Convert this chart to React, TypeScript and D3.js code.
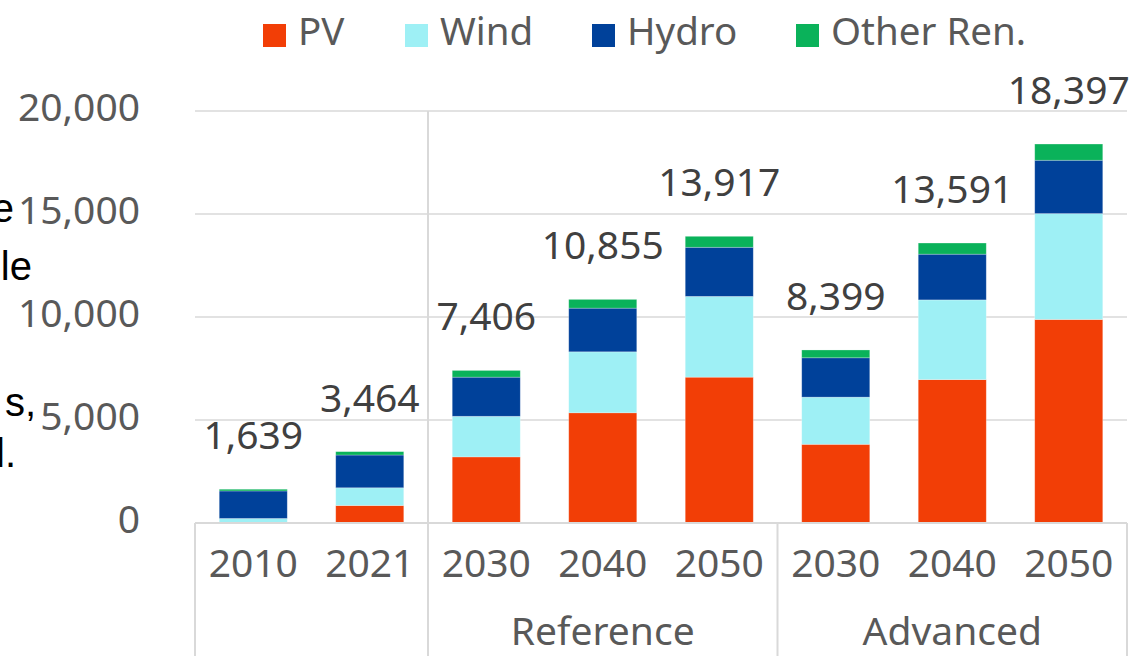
import React, { useRef, useEffect } from "react";
import * as d3 from "d3";

// categories on the x axis (years) and the scenario each belongs to
const categories = ["2010", "2021", "2030", "2040", "2050", "2030", "2040", "2050"];
const scenario = ["", "", "Reference", "Reference", "Reference", "Advanced", "Advanced", "Advanced"];

// stacked series
const pv = [0, 850, 3210, 5350, 7080, 3820, 6960, 9880];
const wind = [220, 860, 1970, 2960, 3920, 2290, 3870, 5140];
const hydro = [1335, 1590, 1900, 2120, 2385, 1910, 2220, 2590];
const other = [84, 164, 326, 425, 532, 379, 541, 787];
const totals = [1639, 3464, 7406, 10855, 13917, 8399, 13591, 18397];

const seriesNames = ["PV", "Wind", "Hydro", "Other Ren."];
const seriesColors = ["#F23E06", "#9EF0F5", "#00419A", "#0AB25A"];
const yTicks = [0, 5000, 10000, 15000, 20000];

// clipped paragraph text on the left edge of the slide
const sideText = ["e", "le", "s,", "l."];

export default function App() {
   const svgRef = useRef<SVGSVGElement>(null);

   useEffect(() => {
      const W = 1135;
      const H = 656;
      const svg = d3.select(svgRef.current).attr("width", W).attr("height", H);
      svg.selectAll("*").remove();

      const font = "'Noto Sans', sans-serif";
      const left = 195;
      const right = 1127;

      const keys = categories.map((c, i) => `${i}`);
      const x = d3.scaleBand().domain(keys).range([left, right]).paddingInner(0.416).paddingOuter(0.208);
      const y = d3.scaleLinear().domain([0, 20000]).range([523, 111]);
      const step = x.step();

      // gridlines
      svg.append("g")
         .selectAll("line")
         .data(yTicks.filter((t) => t > 0))
         .join("line")
         .attr("x1", left)
         .attr("x2", right)
         .attr("y1", (d) => y(d))
         .attr("y2", (d) => y(d))
         .attr("stroke", "#d9d9d9")
         .attr("stroke-width", 1.5);

      // y tick labels
      svg.append("g")
         .selectAll("text")
         .data(yTicks)
         .join("text")
         .attr("x", 140)
         .attr("y", (d) => y(d) + 10)
         .attr("text-anchor", "end")
         .attr("font-family", font)
         .attr("font-size", 39)
         .attr("fill", "#595959")
         .text((d) => d3.format(",")(d));

      // stacked bars
      const rows = categories.map((c, i) => ({
         key: `${i}`,
         PV: pv[i],
         Wind: wind[i],
         Hydro: hydro[i],
         "Other Ren.": other[i],
      }));
      const stacked = d3.stack<any>().keys(seriesNames)(rows);

      svg.append("g")
         .selectAll("g")
         .data(stacked)
         .join("g")
         .attr("fill", (d, i) => seriesColors[i])
         .selectAll("rect")
         .data((d) => d)
         .join("rect")
         .attr("x", (d) => x(d.data.key)!)
         .attr("width", x.bandwidth())
         .attr("y", (d) => y(d[1]))
         .attr("height", (d) => y(d[0]) - y(d[1]))
         .attr("stroke", "#ffffff")
         .attr("stroke-opacity", 0.35)
         .attr("stroke-width", 0.75);

      // axis line and category separators
      svg.append("line")
         .attr("x1", left)
         .attr("x2", right)
         .attr("y1", y(0))
         .attr("y2", y(0))
         .attr("stroke", "#d9d9d9")
         .attr("stroke-width", 2);

      const boundaries = [0, 2, 5, 8];
      svg.append("g")
         .selectAll("line")
         .data(boundaries)
         .join("line")
         .attr("x1", (d) => left + d * step)
         .attr("x2", (d) => left + d * step)
         .attr("y1", (d) => (d === 2 ? y(20000) : y(0)))
         .attr("y2", H)
         .attr("stroke", "#d9d9d9")
         .attr("stroke-width", 2);

      // total labels
      svg.append("g")
         .selectAll("text")
         .data(totals)
         .join("text")
         .attr("x", (d, i) => x(`${i}`)! + x.bandwidth() / 2)
         .attr("y", (d) => y(d) - 40)
         .attr("text-anchor", "middle")
         .attr("font-family", font)
         .attr("font-size", 39)
         .attr("fill", "#404040")
         .text((d) => d3.format(",")(d));

      // x labels
      svg.append("g")
         .selectAll("text")
         .data(categories)
         .join("text")
         .attr("x", (d, i) => x(`${i}`)! + x.bandwidth() / 2)
         .attr("y", 577)
         .attr("text-anchor", "middle")
         .attr("font-family", font)
         .attr("font-size", 39)
         .attr("fill", "#595959")
         .text((d) => d);

      // scenario labels
      const groupNames = Array.from(new Set(scenario.filter((s) => s)));
      svg.append("g")
         .selectAll("text")
         .data(groupNames)
         .join("text")
         .attr("x", (g) => {
            const idx = scenario.map((s, i) => (s === g ? i : -1)).filter((i) => i >= 0);
            return left + ((idx[0] + idx[idx.length - 1] + 1) / 2) * step;
         })
         .attr("y", 645)
         .attr("text-anchor", "middle")
         .attr("font-family", font)
         .attr("font-size", 39)
         .attr("fill", "#595959")
         .text((g) => g);

      // legend
      const legendX = [263, 405, 592, 796];
      const legend = svg.append("g")
         .selectAll("g")
         .data(seriesNames)
         .join("g")
         .attr("transform", (d, i) => `translate(${legendX[i]}, 0)`);
      legend.append("rect")
         .attr("x", 0)
         .attr("y", 24)
         .attr("width", 23)
         .attr("height", 23)
         .attr("fill", (d, i) => seriesColors[i]);
      legend.append("text")
         .attr("x", 35)
         .attr("y", 45)
         .attr("font-family", font)
         .attr("font-size", 38.5)
         .attr("fill", "#595959")
         .text((d) => d);

      // clipped side text
      const sideY = [222, 280, 416, 467];
      const sideX = [14, 32, 36, 16];
      svg.append("g")
         .selectAll("text")
         .data(sideText)
         .join("text")
         .attr("x", (d, i) => sideX[i])
         .attr("y", (d, i) => sideY[i])
         .attr("text-anchor", "end")
         .attr("font-family", "'Liberation Sans', Arial, sans-serif")
         .attr("font-size", 40)
         .attr("fill", "#000000")
         .text((d) => d);
   }, []);

   return (
      <div>
         <svg ref={svgRef} style={{ position: "absolute", left: 0, top: 0, background: "#ffffff" }}></svg>
      </div>
   );
}
